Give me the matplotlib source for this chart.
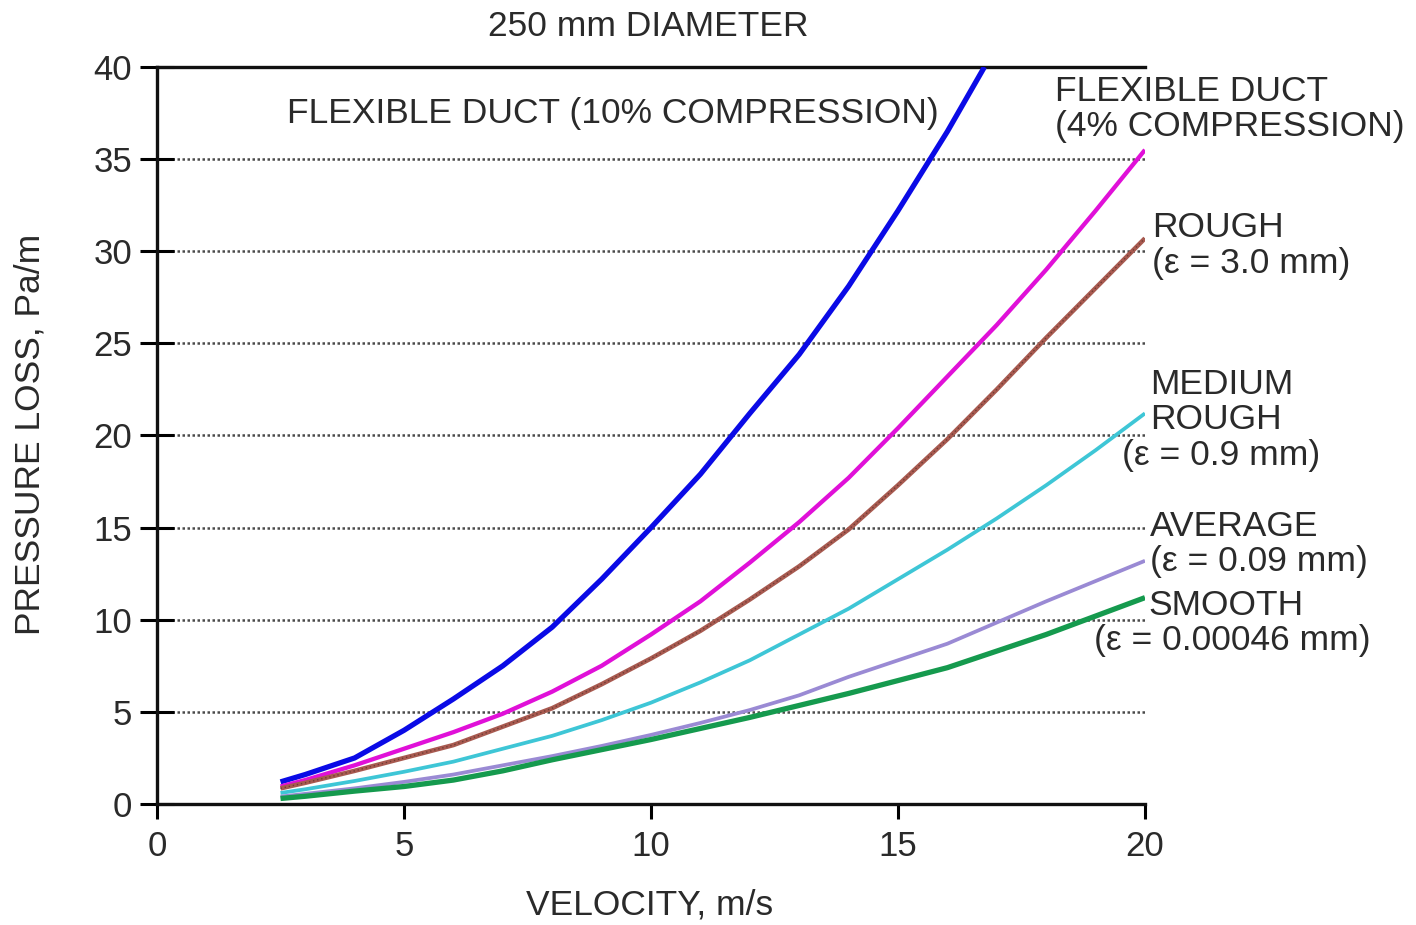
import numpy as np
import matplotlib.pyplot as plt

plt.rcParams["font.family"] = ["Liberation Sans", "DejaVu Sans"]

# velocity, m/s
velocity = [2.5, 3, 4, 5, 6, 7, 8, 9, 10, 11, 12, 13, 14, 15, 16, 17, 18, 19, 20]
velocity_flex10 = [2.5, 3, 4, 5, 6, 7, 8, 9, 10, 11, 12, 13, 14, 15, 16, 16.75]

# pressure loss, Pa/m
flex10 = [1.2, 1.6, 2.5, 4.0, 5.7, 7.5, 9.6, 12.2, 15.0, 17.9, 21.2, 24.4, 28.1,
          32.2, 36.5, 40.0]
flex4 = [0.95, 1.3, 2.1, 3.0, 3.9, 4.9, 6.1, 7.5, 9.2, 11.0, 13.1, 15.3, 17.7,
         20.4, 23.2, 26.0, 29.0, 32.2, 35.5]
rough = [0.85, 1.15, 1.8, 2.5, 3.2, 4.2, 5.2, 6.5, 7.9, 9.4, 11.1, 12.9, 14.9,
         17.3, 19.8, 22.5, 25.3, 28.0, 30.7]
medium_rough = [0.6, 0.8, 1.25, 1.75, 2.3, 3.0, 3.7, 4.55, 5.5, 6.6, 7.8, 9.2,
                10.6, 12.2, 13.8, 15.5, 17.3, 19.2, 21.2]
average = [0.4, 0.55, 0.85, 1.2, 1.6, 2.1, 2.6, 3.15, 3.75, 4.4, 5.1, 5.9, 6.9,
           7.8, 8.7, 9.85, 11.0, 12.1, 13.2]
smooth = [0.3, 0.42, 0.7, 0.95, 1.3, 1.8, 2.4, 2.95, 3.5, 4.1, 4.7, 5.35, 6.0,
          6.7, 7.4, 8.3, 9.2, 10.2, 11.2]

x_ticks = [0, 5, 10, 15, 20]
y_ticks = [0, 5, 10, 15, 20, 25, 30, 35, 40]

TXT = "#2a2a2a"
FS = 25.5
TICK_FS = 25

fig = plt.figure(figsize=(14.16, 9.25), dpi=100)
ax = fig.add_axes([0.1109, 0.1308, 0.6977, 0.7968])

for yv in y_ticks[1:-1]:
    ax.plot([0, 20], [yv, yv], color="#4a4a4a", lw=1.8, ls=(0, (1, 1)), zorder=1)

ax.plot(velocity_flex10, flex10, color="#0a0ae6", lw=3.8, zorder=3, solid_capstyle="butt")
ax.plot(velocity, flex4, color="#e010d8", lw=3.1, zorder=3, solid_capstyle="butt")
ax.plot(velocity, rough, color="#a85a50", lw=3.3, zorder=3, solid_capstyle="butt")
ax.plot(velocity, rough, color="#6e3c34", lw=1.0, ls=(0, (1, 2)), zorder=3)
ax.plot(velocity, medium_rough, color="#3ec6d6", lw=2.7, zorder=3, solid_capstyle="butt")
ax.plot(velocity, average, color="#9a8ad4", lw=2.7, zorder=3, solid_capstyle="butt")
ax.plot(velocity, smooth, color="#159a4e", lw=3.8, zorder=4, solid_capstyle="butt")

ax.set_xlim(0, 20)
ax.set_ylim(0, 40)
ax.set_xticks(x_ticks)
ax.set_yticks(y_ticks)
ax.tick_params(axis="x", direction="out", length=11, width=2.2, pad=8,
               labelsize=TICK_FS, labelcolor=TXT)
ax.tick_params(axis="y", direction="inout", length=24, width=2.2, pad=6,
               labelsize=TICK_FS, labelcolor=TXT)
for side in ["left", "bottom", "top"]:
    ax.spines[side].set_linewidth(2.4)
    ax.spines[side].set_color("#111111")
ax.spines["right"].set_visible(False)

# curve labels
kw = dict(fontsize=FS, color=TXT, ha="left", va="center", clip_on=False)
ax.text(2.63, 37.5, "FLEXIBLE DUCT (10% COMPRESSION)", **kw)
ax.text(18.18, 38.65, "FLEXIBLE DUCT", **kw)
ax.text(18.18, 36.75, "(4% COMPRESSION)", **kw)
ax.text(20.14, 31.27, "ROUGH", **kw)
ax.text(20.14, 29.32, "(ε = 3.0 mm)", **kw)
ax.text(20.1, 22.75, "MEDIUM", **kw)
ax.text(20.1, 20.85, "ROUGH", **kw)
ax.text(19.53, 18.89, "(ε = 0.9 mm)", **kw)
ax.text(20.1, 15.04, "AVERAGE", **kw)
ax.text(20.1, 13.14, "(ε = 0.09 mm)", **kw)
ax.text(20.06, 10.75, "SMOOTH", **kw)
ax.text(18.97, 8.9, "(ε = 0.00046 mm)", **kw)

fig.text(0.4576, 0.971, "250 mm DIAMETER", fontsize=FS, color=TXT,
         ha="center", va="center")
fig.text(0.459, 0.022, "VELOCITY, m/s", fontsize=FS, color=TXT,
         ha="center", va="center")
fig.text(0.021, 0.53, "PRESSURE LOSS, Pa/m", fontsize=FS, color=TXT,
         ha="center", va="center", rotation=90)

fig.savefig("out.png", dpi=100)
